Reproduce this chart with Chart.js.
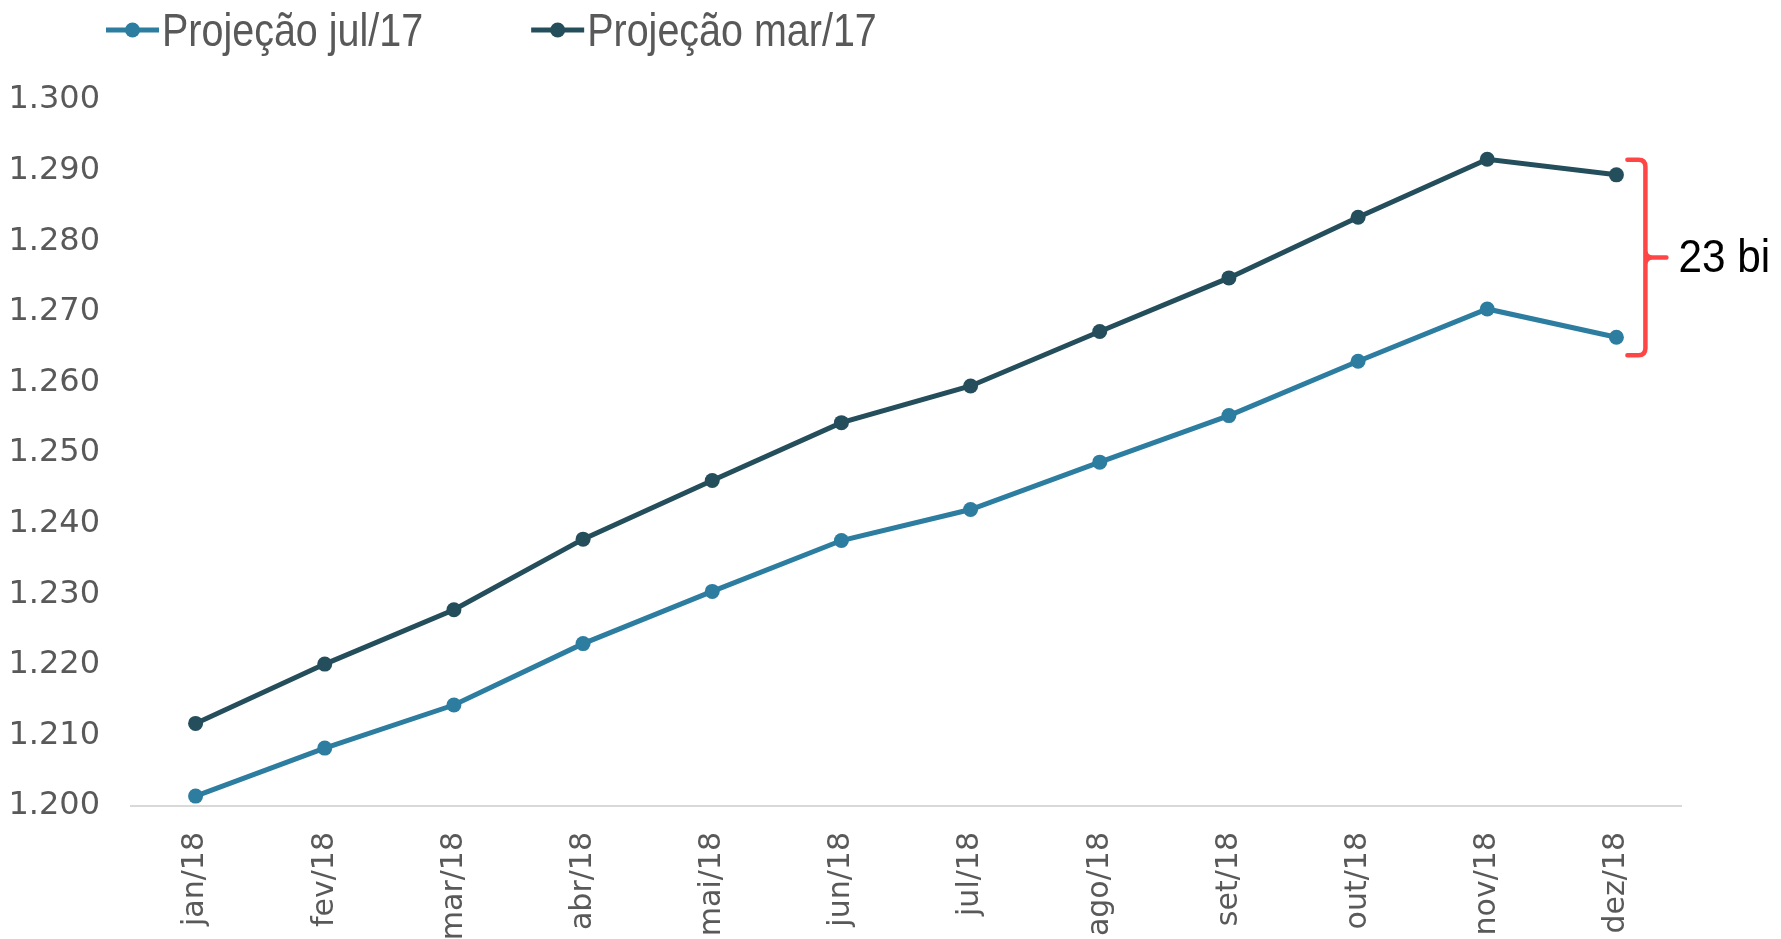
<!DOCTYPE html>
<html lang="pt-BR">
<head>
<meta charset="utf-8">
<title>Projeção 2018</title>
<script src="https://cdn.jsdelivr.net/npm/chart.js@4.4.0/dist/chart.umd.min.js"></script>
<style>
  html, body { margin: 0; padding: 0; background: #fff; }
  #wrap { width: 1781px; height: 939px; position: relative; }
</style>
</head>
<body>
<div id="wrap"><canvas id="grafico"></canvas></div>
<script>
// Dados
const meses = ['jan/18', 'fev/18', 'mar/18', 'abr/18', 'mai/18', 'jun/18',
               'jul/18', 'ago/18', 'set/18', 'out/18', 'nov/18', 'dez/18'];
const projecaoJul17 = [1201.4, 1208.2, 1214.3, 1223.0, 1230.4, 1237.6,
                       1242.0, 1248.7, 1255.3, 1263.0, 1270.4, 1266.4];
const projecaoMar17 = [1211.7, 1220.1, 1227.8, 1237.8, 1246.1, 1254.3,
                       1259.5, 1267.2, 1274.8, 1283.4, 1291.6, 1289.4];
const eixoY = { min: 1200, max: 1300, passo: 10 };

const corJul = '#2C7DA0';
const corMar = '#244E5C';
const cinza = '#595959';
const fonteTexto = '"Liberation Sans", Arial, sans-serif';

// formata 1300 -> "1.300"
function formataMilhar(v) {
    return String(Math.round(v)).replace(/\B(?=(\d{3})+(?!\d))/g, '.');
}

// texto estreito (tipo Calibri): comprime na horizontal
function textoEstreito(ctx, txt, x, y, escala) {
    ctx.save();
    ctx.translate(x, y);
    ctx.scale(escala, 1);
    ctx.fillText(txt, 0, 0);
    ctx.restore();
    return ctx.measureText(txt).width * escala;
}

// Legenda com linha + marcador, desenhada no topo
const legendaLinha = {
    id: 'legendaLinha',
    afterDraw(chart) {
        const ctx = chart.ctx;
        let x = 106;
        const yMarca = 30;
        ctx.save();
        ctx.font = '47px ' + fonteTexto;
        ctx.textBaseline = 'alphabetic';
        chart.data.datasets.forEach(ds => {
            ctx.strokeStyle = ds.borderColor;
            ctx.lineWidth = 5;
            ctx.beginPath();
            ctx.moveTo(x, yMarca);
            ctx.lineTo(x + 53, yMarca);
            ctx.stroke();
            ctx.fillStyle = ds.borderColor;
            ctx.beginPath();
            ctx.arc(x + 26.5, yMarca, 7.5, 0, Math.PI * 2);
            ctx.fill();
            ctx.fillStyle = cinza;
            const w = textoEstreito(ctx, ds.label, x + 56, 46, 0.84);
            x += 56 + w + 108;
        });
        ctx.restore();
    }
};

// Chave vermelha com a diferença no último mês
const chaveDiferenca = {
    id: 'chaveDiferenca',
    afterDatasetsDraw(chart) {
        const { ctx, scales: { x, y } } = chart;
        const i = meses.length - 1;
        const px = x.getPixelForValue(i);
        const yTop = y.getPixelForValue(projecaoMar17[i]) - 15;
        const yBot = y.getPixelForValue(projecaoJul17[i]) + 18;
        const yMid = (yTop + yBot) / 2;
        const x0 = px + 11, xv = px + 29, xt = px + 50;
        const r = 7;

        ctx.save();
        ctx.strokeStyle = '#FF4646';
        ctx.lineWidth = 4.5;
        ctx.lineCap = 'round';
        ctx.beginPath();
        ctx.moveTo(x0, yTop);
        ctx.lineTo(xv - r, yTop);
        ctx.quadraticCurveTo(xv, yTop, xv, yTop + r);
        ctx.lineTo(xv, yBot - r);
        ctx.quadraticCurveTo(xv, yBot, xv - r, yBot);
        ctx.lineTo(x0, yBot);
        ctx.moveTo(xv, yMid - r);
        ctx.quadraticCurveTo(xv, yMid, xv + r, yMid);
        ctx.lineTo(xt, yMid);
        ctx.moveTo(xv, yMid + r);
        ctx.quadraticCurveTo(xv, yMid, xv + r, yMid);
        ctx.stroke();

        const dif = Math.round(projecaoMar17[i] - projecaoJul17[i]);
        ctx.fillStyle = '#000';
        ctx.font = '47px ' + fonteTexto;
        ctx.textBaseline = 'middle';
        textoEstreito(ctx, dif + ' bi', px + 62, yMid + 2, 0.9);
        ctx.restore();
    }
};

const ctx = document.getElementById('grafico').getContext('2d');
const chart = new Chart(ctx, {
    type: 'line',
    data: {
        labels: meses,
        datasets: [
            {
                label: 'Projeção jul/17',
                data: projecaoJul17,
                borderColor: corJul,
                backgroundColor: corJul,
                borderWidth: 5,
                pointRadius: 7.5,
                pointBorderWidth: 0,
                tension: 0,
                fill: false
            },
            {
                label: 'Projeção mar/17',
                data: projecaoMar17,
                borderColor: corMar,
                backgroundColor: corMar,
                borderWidth: 5,
                pointRadius: 7.5,
                pointBorderWidth: 0,
                tension: 0,
                fill: false
            }
        ]
    },
    options: {
        responsive: true,
        maintainAspectRatio: false,
        animation: false,
        layout: { padding: { top: 100, right: 100, bottom: 0, left: 0 } },
        plugins: {
            legend: { display: false },
            tooltip: { enabled: false }
        },
        scales: {
            x: {
                offset: true,
                grid: { display: false, drawTicks: false, offset: true },
                border: { display: true, color: '#D9D9D9', width: 2 },
                ticks: {
                    color: cinza,
                    font: { family: '"DejaVu Sans"', size: 30 },
                    minRotation: 90,
                    maxRotation: 90,
                    autoSkip: false,
                    padding: 26
                },
                afterFit(scale) { scale.height = 133; }
            },
            y: {
                min: eixoY.min,
                max: eixoY.max,
                grid: { display: false, drawTicks: false },
                border: { display: false },
                ticks: {
                    stepSize: eixoY.passo,
                    color: cinza,
                    font: { family: '"DejaVu Sans"', size: 32 },
                    padding: 31,
                    callback: v => formataMilhar(v)
                },
                afterFit(scale) { scale.width = 131; }
            }
        }
    },
    plugins: [legendaLinha, chaveDiferenca]
});
</script>
</body>
</html>
